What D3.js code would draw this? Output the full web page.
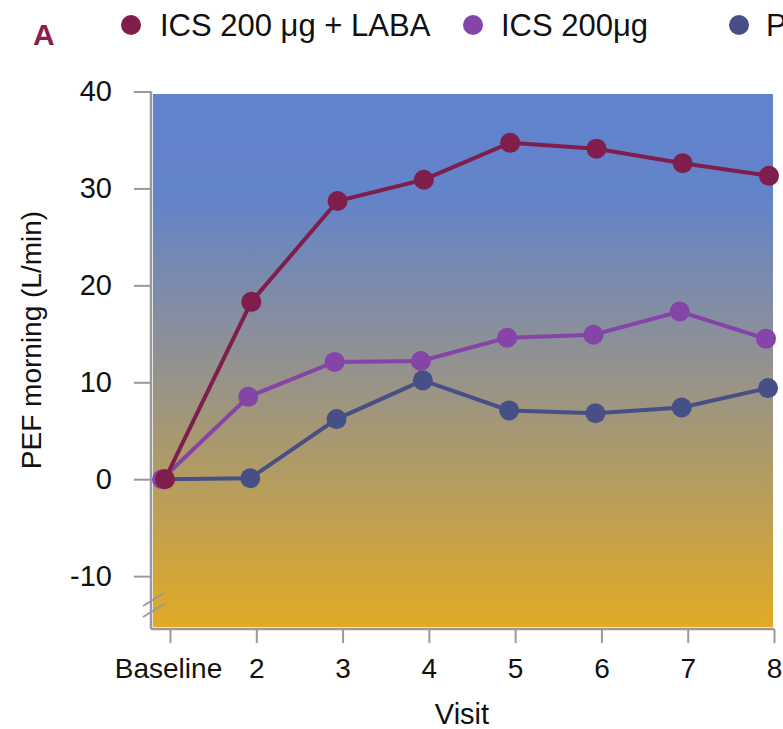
<!doctype html>
<html>
<head>
    <meta charset="utf-8">
    <style>
        html, body {
            margin: 0;
            padding: 0;
            background: #fff;
        }
        svg text {
            font-family: "Liberation Sans", Arial, sans-serif;
        }
    </style>
</head>
<body>
<svg id="chart" width="783" height="729"></svg>
<script src="https://cdn.jsdelivr.net/npm/d3@7"></script>
<script>
    var visits = ['Baseline', '2', '3', '4', '5', '6', '7', '8'];
    var yTicks = [-10, 0, 10, 20, 30, 40];

    var seriesNames = ['Placebo', 'ICS 200μg', 'ICS 200 μg + LABA'];
    var placebo = [0, 0.1, 6.2, 10.2, 7.1, 6.8, 7.4, 9.4];
    var ics = [0, 8.5, 12.1, 12.2, 14.6, 14.9, 17.3, 14.5];
    var icsLaba = [0, 18.3, 28.7, 30.9, 34.7, 34.1, 32.6, 31.3];

    var colors = {'Placebo': '#474f87', 'ICS 200μg': '#8544a7', 'ICS 200 μg + LABA': '#7f1d4c'};
    var series = [
        {name: 'Placebo', values: placebo, dx: -6},
        {name: 'ICS 200μg', values: ics, dx: -8},
        {name: 'ICS 200 μg + LABA', values: icsLaba, dx: -5}
    ];

    var svg = d3.select('#chart');

    var x = d3.scalePoint().domain(visits).range([170, 774]);
    var y = d3.scaleLinear().domain([-15.35, 40]).range([628, 91.5]);

    // gradient background
    var grad = svg.append('defs').append('linearGradient')
        .attr('id', 'bg').attr('x1', 0).attr('y1', 0).attr('x2', 0).attr('y2', 1);
    [[0, '#6183cf'], [0.2, '#6384c8'], [0.45, '#8a8f9b'], [0.68, '#ad9a6a'], [1, '#e2aa25']]
        .forEach(function(s){
            grad.append('stop').attr('offset', s[0]).attr('stop-color', s[1]);
        });

    svg.append('rect')
        .attr('x', 153).attr('y', 94)
        .attr('width', 620).attr('height', 533)
        .attr('fill', 'url(#bg)');

    // y axis
    var yAxis = svg.append('g')
        .attr('transform', 'translate(151,0)')
        .call(d3.axisLeft(y).tickValues(yTicks).tickSize(17).tickPadding(22)
            .tickFormat(function(d){ return String(d); }));
    yAxis.select('.domain').attr('d', 'M0,' + y(40) + 'V629');
    yAxis.selectAll('line').attr('stroke', '#999').attr('stroke-width', 2);
    yAxis.select('.domain').attr('stroke', '#999').attr('stroke-width', 2.5);
    yAxis.selectAll('text').attr('font-size', 29).attr('fill', '#111')
        .attr('font-family', '"Liberation Sans", Arial, sans-serif');

    // x axis
    var xAxis = svg.append('g')
        .attr('transform', 'translate(0,629)')
        .call(d3.axisBottom(x).tickSize(14).tickPadding(15));
    xAxis.select('.domain').attr('d', 'M151,0H774').attr('stroke', '#999').attr('stroke-width', 2.5);
    xAxis.selectAll('line').attr('stroke', '#999').attr('stroke-width', 2);
    xAxis.selectAll('text').attr('font-size', 28).attr('fill', '#111')
        .attr('font-family', '"Liberation Sans", Arial, sans-serif');
    xAxis.selectAll('.tick').filter(function(d){ return d === 'Baseline'; })
        .select('text').attr('dx', -2);

    // axis break
    svg.append('g').attr('stroke', '#999').attr('stroke-width', 2)
        .selectAll('line').data([0, 11]).enter().append('line')
        .attr('x1', 143).attr('x2', 164)
        .attr('y1', function(d){ return 606 + d; })
        .attr('y2', function(d){ return 593 + d; });

    // axis titles
    svg.append('text')
        .attr('transform', 'translate(41,340) rotate(-90)')
        .attr('text-anchor', 'middle')
        .attr('font-size', 28)
        .attr('fill', '#111')
        .text('PEF morning (L/min)');

    svg.append('text')
        .attr('x', 462).attr('y', 724)
        .attr('text-anchor', 'middle')
        .attr('font-size', 29)
        .attr('fill', '#111')
        .text('Visit');

    // lines + points
    var line = d3.line();
    series.forEach(function(s){
        var pts = s.values.map(function(v, i){ return [x(visits[i]) + s.dx, y(v)]; });
        var g = svg.append('g');
        g.append('path')
            .attr('d', line(pts))
            .attr('fill', 'none')
            .attr('stroke', colors[s.name])
            .attr('stroke-width', 4);
        g.selectAll('circle').data(pts).enter().append('circle')
            .attr('cx', function(d){ return d[0]; })
            .attr('cy', function(d){ return d[1]; })
            .attr('r', 10)
            .attr('fill', colors[s.name]);
    });

    // legend
    var legend = [
        {name: 'ICS 200 μg + LABA', cx: 131, tx: 160},
        {name: 'ICS 200μg', cx: 473, tx: 501},
        {name: 'Placebo', cx: 739, tx: 766}
    ];
    var lg = svg.selectAll('.legend').data(legend).enter().append('g').attr('class', 'legend');
    lg.append('circle')
        .attr('cx', function(d){ return d.cx; })
        .attr('cy', 25)
        .attr('r', 10)
        .attr('fill', function(d){ return colors[d.name]; });
    lg.append('text')
        .attr('x', function(d){ return d.tx; })
        .attr('y', 36)
        .attr('font-size', 31)
        .attr('fill', '#111')
        .text(function(d){ return d.name; });

    svg.append('text')
        .attr('x', 33).attr('y', 45)
        .attr('font-size', 30)
        .attr('font-weight', 'bold')
        .attr('fill', '#8b1e4e')
        .text('A');
</script>
</body>
</html>
